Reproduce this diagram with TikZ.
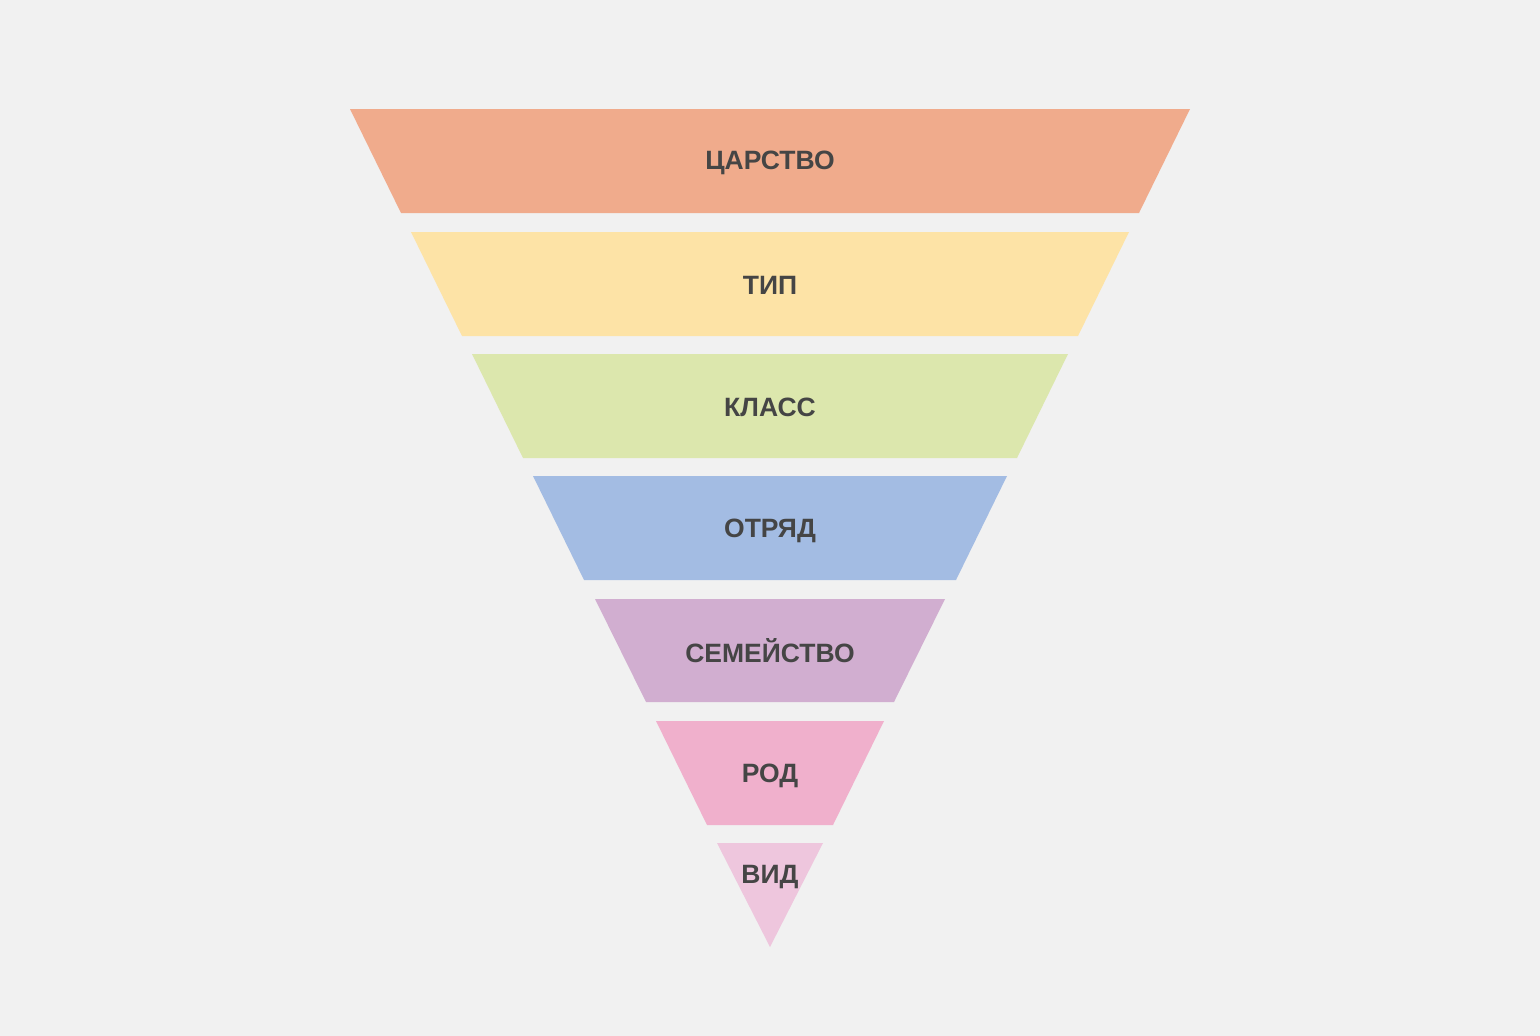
\documentclass[tikz,border=0pt]{standalone}
\usepackage{fontspec}
\setmainfont{Liberation Sans}
\begin{document}
\begin{tikzpicture}[x=1pt,y=-1pt,
  lvl/.style={font=\fontsize{26.5}{30}\selectfont\bfseries, text=txt, inner sep=0pt, anchor=base}]
\definecolor{bg}{HTML}{F1F1F1}
\definecolor{txt}{HTML}{454545}
\definecolor{c1}{HTML}{F0AB8C}
\definecolor{c2}{HTML}{FDE3A6}
\definecolor{c3}{HTML}{DCE7AD}
\definecolor{c4}{HTML}{A3BCE3}
\definecolor{c5}{HTML}{D1AED0}
\definecolor{c6}{HTML}{F0B0CC}
\definecolor{c7}{HTML}{EEC6DD}
\fill[bg] (0,0) rectangle (1540,1036);
\useasboundingbox (0,0) rectangle (1540,1036);
\fill[c1] (350,109) -- (1190,109) -- (1139,213) -- (401,213) -- cycle;
\fill[c2] (411,232) -- (1129,232) -- (1078,336) -- (462,336) -- cycle;
\fill[c3] (472,354) -- (1068,354) -- (1017,458) -- (523,458) -- cycle;
\fill[c4] (533,476) -- (1007,476) -- (956,580) -- (584,580) -- cycle;
\fill[c5] (595,599) -- (945,599) -- (894,702) -- (646,702) -- cycle;
\fill[c6] (656,721) -- (884,721) -- (833,825) -- (707,825) -- cycle;
\fill[c7] (717,843) -- (823,843) -- (770,947) -- cycle;
\node[lvl] (l1) at (770,169) {ЦАРСТВО};
\node[lvl] (l2) at (770,294) {ТИП};
\node[lvl] (l3) at (770,416) {КЛАСС};
\node[lvl] (l4) at (770,537) {ОТРЯД};
\node[lvl] (l5) at (770,662) {СЕМЕЙСТВО};
\node[lvl] (l6) at (770,782) {РОД};
\node[lvl] (l7) at (770,883) {ВИД};
\end{tikzpicture}
\end{document}
